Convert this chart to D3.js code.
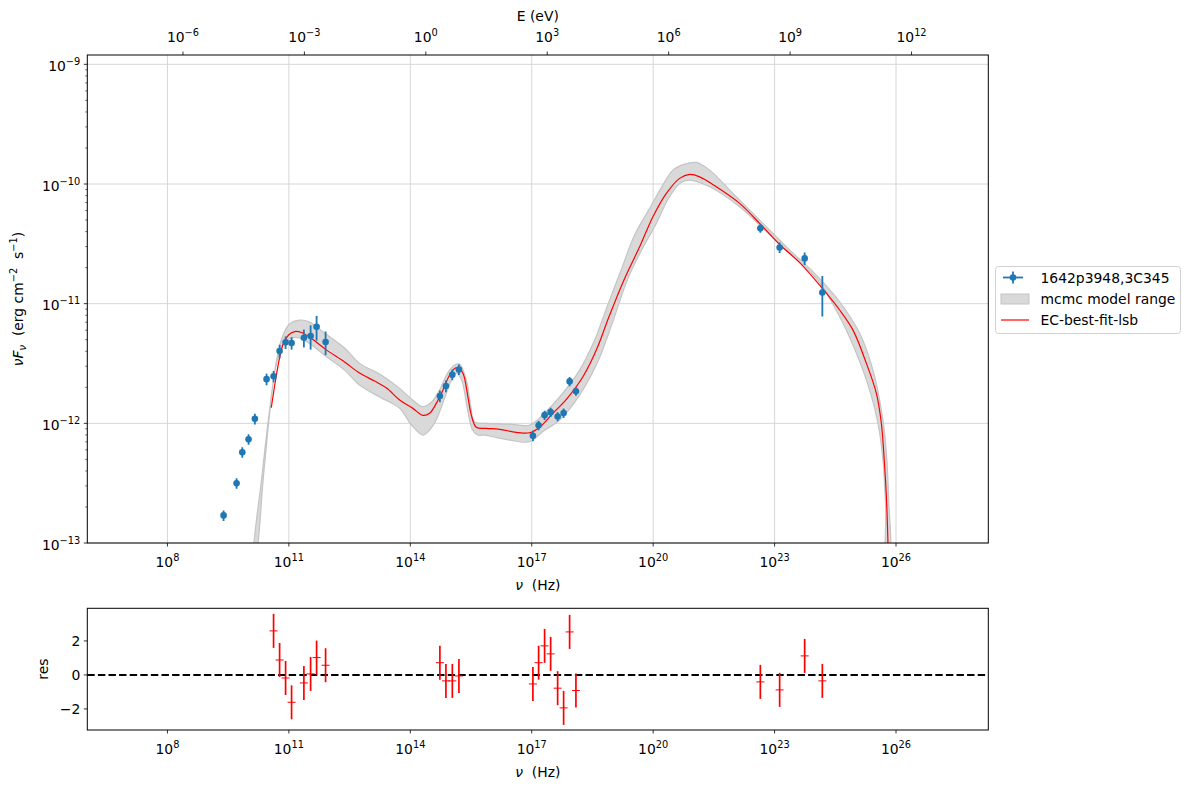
<!DOCTYPE html>
<html><head><meta charset="utf-8">
<script src="https://cdn.jsdelivr.net/npm/d3@7"></script>
<style>body{margin:0;background:#fff} text{font-family:"DejaVu Sans",sans-serif;white-space:pre}</style>
</head><body><svg id="c" width="1189" height="790"></svg>
<script>
// ---------------- data ----------------
const obsLogNu = [9.387,9.708,9.849,10.004,10.160,10.449,10.622,10.771,10.919,11.067,11.371,11.537,11.685,11.907,
  14.731,14.880,15.038,15.201,17.029,17.170,17.318,17.467,17.640,17.788,17.936,18.092,22.648,23.125,23.743,24.180];
const obsFlux = [1.70e-13,3.16e-13,5.73e-13,7.35e-13,1.09e-12,2.34e-12,2.47e-12,4.02e-12,4.75e-12,4.69e-12,5.19e-12,5.36e-12,6.41e-12,4.78e-12,
  1.69e-12,2.05e-12,2.55e-12,2.82e-12,7.87e-13,9.62e-13,1.17e-12,1.24e-12,1.14e-12,1.22e-12,2.24e-12,1.85e-12,4.26e-11,2.95e-11,2.39e-11,1.24e-11];
const obsFluxErr = [1.7e-14,3.2e-14,5.7e-14,7.4e-14,1.1e-13,2.6e-13,2.7e-13,5.2e-13,5.7e-13,5.6e-13,8.8e-13,1.23e-12,1.50e-12,1.07e-12,
  1.9e-13,2.3e-13,2.6e-13,2.8e-13,7.9e-14,8.7e-14,1.05e-13,1.1e-13,1.0e-13,1.1e-13,2.0e-13,1.5e-13,3.4e-12,3.0e-12,2.9e-12,4.6e-12];

const modelLogNu = [10.565,10.672,10.770,10.869,10.993,11.141,11.314,11.586,11.907,12.377,12.747,13.118,13.414,13.736,14.064,14.311,14.477,14.642,14.806,14.971,15.095,15.176,15.300,15.423,15.507,15.631,15.878,16.207,16.619,16.948,17.195,17.524,17.855,18.265,18.596,18.925,19.295,19.666,19.995,20.326,20.654,20.901,21.149,21.561,22.137,22.631,23.125,23.619,24.114,24.608,24.937,25.268,25.515,25.638,25.720,25.762,25.801,25.815];
const modelLogF = [-11.870,-11.638,-11.454,-11.329,-11.262,-11.233,-11.241,-11.298,-11.382,-11.488,-11.580,-11.647,-11.705,-11.805,-11.875,-11.933,-11.916,-11.833,-11.722,-11.596,-11.541,-11.535,-11.582,-11.778,-11.931,-12.033,-12.042,-12.050,-12.075,-12.079,-12.033,-11.916,-11.800,-11.611,-11.388,-11.095,-10.789,-10.525,-10.274,-10.079,-9.953,-9.920,-9.940,-10.023,-10.162,-10.329,-10.506,-10.657,-10.845,-11.053,-11.221,-11.499,-11.749,-12.000,-12.363,-12.613,-13.000,-13.300];

const bandUpLogNu = [10.165,10.375,10.548,10.696,10.845,11.018,11.265,11.512,11.882,12.377,12.747,13.241,13.736,14.057,14.311,14.526,14.724,14.922,15.095,15.218,15.384,15.490,15.589,15.878,16.454,16.948,17.318,17.689,18.183,18.554,18.875,19.189,19.542,19.913,20.210,20.489,20.778,21.067,21.396,21.971,22.631,23.291,24.032,24.608,25.102,25.431,25.678,25.762,25.819,25.843];
const bandUpLogF = [-13.142,-12.432,-11.847,-11.471,-11.271,-11.170,-11.137,-11.154,-11.246,-11.371,-11.499,-11.588,-11.708,-11.805,-11.861,-11.822,-11.722,-11.580,-11.513,-11.505,-11.638,-11.847,-11.989,-12.000,-12.006,-12.014,-11.914,-11.780,-11.555,-11.304,-11.012,-10.736,-10.427,-10.204,-10.026,-9.884,-9.834,-9.820,-9.884,-10.079,-10.302,-10.525,-10.761,-10.984,-11.248,-11.555,-11.972,-12.248,-12.641,-13.142];
const bandLoLogNu = [10.128,10.338,10.523,10.672,10.845,11.067,11.265,11.561,11.907,12.377,12.747,13.241,13.736,14.032,14.311,14.477,14.642,14.848,15.020,15.144,15.268,15.416,15.539,15.663,15.836,16.034,16.454,16.948,17.269,17.689,18.183,18.628,18.974,19.377,19.740,20.079,20.358,20.654,20.901,21.396,22.137,22.713,23.291,24.032,24.608,25.021,25.349,25.554,25.678,25.745,25.769];
const bandLoLogF = [-13.142,-12.432,-11.889,-11.538,-11.346,-11.287,-11.287,-11.346,-11.438,-11.555,-11.680,-11.780,-11.875,-12.014,-12.098,-12.056,-11.972,-11.789,-11.638,-11.580,-11.638,-11.889,-12.056,-12.098,-12.098,-12.112,-12.140,-12.154,-12.070,-11.972,-11.764,-11.488,-11.179,-10.789,-10.536,-10.329,-10.134,-9.995,-9.967,-10.023,-10.190,-10.371,-10.552,-10.789,-11.109,-11.415,-11.722,-12.000,-12.307,-12.724,-13.142];

const resLogNu = [10.622,10.771,10.919,11.067,11.371,11.537,11.685,11.907,14.731,14.880,15.038,15.201,17.029,17.170,17.318,17.467,17.640,17.788,17.936,18.092,22.648,23.125,23.743,24.180];
const resValue = [2.59,0.88,-0.18,-1.61,-0.47,0.06,1.02,0.57,0.72,-0.35,-0.35,-0.06,-0.53,0.72,1.71,1.24,-0.78,-1.94,2.53,-0.92,-0.41,-0.88,1.12,-0.35];
const resErr = [1,1,1,1,1,1,1,1,1,1,1,1,1,1,1,1,1,1,1,1,1,1,1,1];

const xTickExp = [8,11,14,17,20,23,26];
const yTickExp = [-13,-12,-11,-10,-9];
const eTickExp = [-6,-3,0,3,6,9,12];
const resTicks = [-2,0,2];
const legendLabels = ["1642p3948,3C345","mcmc model range","EC-best-fit-lsb"];
const hPlanck_eV = 4.135667e-15;

// ---------------- layout ----------------
const M = {l:87.3, r:988.3, t:55, b:543};
const R = {t:608.3, b:730};
const blue = "#1f77b4";
const svg = d3.select("#c");

const x = d3.scaleLog().domain([10**6.02, 10**28.28]).range([M.l, M.r]);
const xE = d3.scaleLog().domain([10**6.02*hPlanck_eV, 10**28.28*hPlanck_eV]).range([M.l, M.r]);
const y = d3.scaleLog().domain([1e-13, 10**-8.922]).range([M.b, M.t]);
const yr = d3.scaleLinear().domain([-3.24, 3.92]).range([R.b, R.t]);

const minus = s => String(s).replace("-", "\u2212");
function powLabel(sel, exp){
  sel.append("tspan").text("10");
  sel.append("tspan").attr("dy", -6).attr("font-size", 9.8).text(minus(exp));
}

svg.append("clipPath").attr("id","clipM").append("rect")
  .attr("x",M.l).attr("y",M.t).attr("width",M.r-M.l).attr("height",M.b-M.t);

// grid
const g = svg.append("g");
xTickExp.forEach(e=>{
  g.append("line").attr("x1",x(10**e)).attr("x2",x(10**e)).attr("y1",M.t).attr("y2",M.b)
   .attr("stroke","#d6d6d6").attr("stroke-width",1);
});
yTickExp.forEach(e=>{
  g.append("line").attr("x1",M.l).attr("x2",M.r).attr("y1",y(10**e)).attr("y2",y(10**e))
   .attr("stroke","#d6d6d6").attr("stroke-width",1);
});

const plot = svg.append("g").attr("clip-path","url(#clipM)");

// band
const bandPts = bandUpLogNu.map((v,i)=>[v,bandUpLogF[i]])
  .concat(bandLoLogNu.map((v,i)=>[v,bandLoLogF[i]]).reverse());
plot.append("path")
  .attr("d", d3.line().x(d=>x(10**d[0])).y(d=>y(10**d[1])).curve(d3.curveCatmullRomClosed.alpha(0.5))(bandPts))
  .attr("fill","#d9d9d9").attr("stroke","#c4c4c4").attr("stroke-width",1.2);

// model line
const modelPts = modelLogNu.map((v,i)=>[v,modelLogF[i]]);
plot.append("path")
  .attr("d", d3.line().x(d=>x(10**d[0])).y(d=>y(10**d[1])).curve(d3.curveCatmullRom.alpha(0.5))(modelPts))
  .attr("fill","none").attr("stroke","red").attr("stroke-width",1.2);

// data points
obsLogNu.forEach((v,i)=>{
  const cx = x(10**v), f = obsFlux[i], e = obsFluxErr[i];
  plot.append("line").attr("x1",cx).attr("x2",cx).attr("y1",y(f+e)).attr("y2",y(Math.max(f-e,1e-20)))
    .attr("stroke",blue).attr("stroke-width",1.8);
  plot.append("circle").attr("cx",cx).attr("cy",y(f)).attr("r",3.3).attr("fill",blue);
});

// frame main
svg.append("rect").attr("x",M.l).attr("y",M.t).attr("width",M.r-M.l).attr("height",M.b-M.t)
  .attr("fill","none").attr("stroke","#000").attr("stroke-width",1);

// bottom ticks main
xTickExp.forEach(e=>{
  const px = x(10**e);
  svg.append("line").attr("x1",px).attr("x2",px).attr("y1",M.b).attr("y2",M.b+3.5).attr("stroke","#000").attr("stroke-width",0.8);
  powLabel(svg.append("text").attr("x",px).attr("y",M.b+24).attr("text-anchor","middle").attr("font-size",13.9), e);
});
// top E ticks
eTickExp.forEach(e=>{
  const px = xE(10**e);
  svg.append("line").attr("x1",px).attr("x2",px).attr("y1",M.t).attr("y2",M.t-3.5).attr("stroke","#000").attr("stroke-width",0.8);
  const t = svg.append("text").attr("x",px).attr("y",M.t-13).attr("text-anchor","middle").attr("font-size",13.9);
  powLabel(t, e);
});
// y ticks main
yTickExp.forEach(e=>{
  const py = y(10**e);
  svg.append("line").attr("x1",M.l).attr("x2",M.l-3.5).attr("y1",py).attr("y2",py).attr("stroke","#000").attr("stroke-width",0.8);
  powLabel(svg.append("text").attr("x",M.l-7).attr("y",py+6.5).attr("text-anchor","end").attr("font-size",13.9), e);
  for (let m=2;m<=9;m++){
    const v = m*10**e;
    if (v < y.domain()[1]) {
      const p = y(v);
      svg.append("line").attr("x1",M.l).attr("x2",M.l-2).attr("y1",p).attr("y2",p).attr("stroke","#000").attr("stroke-width",0.6);
    }
  }
});

// axis labels main
svg.append("text").attr("x",(M.l+M.r)/2).attr("y",590).attr("text-anchor","middle").attr("font-size",13.9)
  .call(t=>{t.append("tspan").attr("font-style","italic").text("ν"); t.append("tspan").text("  (Hz)");});
svg.append("text").attr("x",(M.l+M.r)/2).attr("y",21).attr("text-anchor","middle").attr("font-size",13.9).text("E (eV)");
svg.append("text").attr("transform",`translate(23,${(M.t+M.b)/2}) rotate(-90)`).attr("text-anchor","middle").attr("font-size",13.9)
  .call(t=>{
    t.append("tspan").attr("font-style","italic").text("νF");
    t.append("tspan").attr("font-style","italic").attr("font-size",9.8).attr("dy",3).text("ν");
    t.append("tspan").attr("dy",-3).text("  (erg cm");
    t.append("tspan").attr("font-size",9.8).attr("dy",-6).text("−2");
    t.append("tspan").attr("dy",6).text("  s");
    t.append("tspan").attr("font-size",9.8).attr("dy",-6).text("−1");
    t.append("tspan").attr("dy",6).text(")");
  });

// ---------------- residual panel ----------------
svg.append("line").attr("x1",M.l).attr("x2",M.r).attr("y1",yr(0)).attr("y2",yr(0))
  .attr("stroke","#000").attr("stroke-width",2).attr("stroke-dasharray","7.4,3.2");
resLogNu.forEach((v,i)=>{
  const cx = x(10**v), r = resValue[i], e = resErr[i];
  svg.append("line").attr("x1",cx).attr("x2",cx).attr("y1",yr(r+e)).attr("y2",yr(r-e)).attr("stroke","red").attr("stroke-width",1.7);
  svg.append("line").attr("x1",cx-4).attr("x2",cx+4).attr("y1",yr(r)).attr("y2",yr(r)).attr("stroke","red").attr("stroke-width",1);
});
svg.append("rect").attr("x",M.l).attr("y",R.t).attr("width",M.r-M.l).attr("height",R.b-R.t)
  .attr("fill","none").attr("stroke","#000").attr("stroke-width",1);
xTickExp.forEach(e=>{
  const px = x(10**e);
  svg.append("line").attr("x1",px).attr("x2",px).attr("y1",R.b).attr("y2",R.b+3.5).attr("stroke","#000").attr("stroke-width",0.8);
  powLabel(svg.append("text").attr("x",px).attr("y",R.b+24).attr("text-anchor","middle").attr("font-size",13.9), e);
});
resTicks.forEach(v=>{
  const py = yr(v);
  svg.append("line").attr("x1",M.l).attr("x2",M.l-3.5).attr("y1",py).attr("y2",py).attr("stroke","#000").attr("stroke-width",0.8);
  svg.append("text").attr("x",M.l-7).attr("y",py+5).attr("text-anchor","end").attr("font-size",13.9).text(minus(v));
});
svg.append("text").attr("x",(M.l+M.r)/2).attr("y",777).attr("text-anchor","middle").attr("font-size",13.9)
  .call(t=>{t.append("tspan").attr("font-style","italic").text("ν"); t.append("tspan").text("  (Hz)");});
svg.append("text").attr("transform",`translate(48,${(R.t+R.b)/2}) rotate(-90)`).attr("text-anchor","middle").attr("font-size",13.9).text("res");

// ---------------- legend ----------------
const lg = svg.append("g");
lg.append("rect").attr("x",995.5).attr("y",266.5).attr("width",185).attr("height",67).attr("rx",3)
  .attr("fill","#fff").attr("stroke","#d0d0d0").attr("stroke-width",1);
const rows = [277.5, 298.5, 320];
lg.append("line").attr("x1",1003).attr("x2",1023).attr("y1",rows[0]).attr("y2",rows[0]).attr("stroke",blue).attr("stroke-width",1.8);
lg.append("line").attr("x1",1013).attr("x2",1013).attr("y1",rows[0]-6).attr("y2",rows[0]+6).attr("stroke",blue).attr("stroke-width",1.8);
lg.append("circle").attr("cx",1013).attr("cy",rows[0]).attr("r",3.3).attr("fill",blue);
lg.append("rect").attr("x",1001).attr("y",rows[1]-4.5).attr("width",28).attr("height",10)
  .attr("fill","#d9d9d9").attr("stroke","#c4c4c4").attr("stroke-width",1);
lg.append("line").attr("x1",1001).attr("x2",1029).attr("y1",rows[2]).attr("y2",rows[2]).attr("stroke","red").attr("stroke-width",1.2);
legendLabels.forEach((s,i)=>{
  lg.append("text").attr("x",1040.5).attr("y",rows[i]+5).attr("font-size",13.9).text(s);
});
</script></body></html>
